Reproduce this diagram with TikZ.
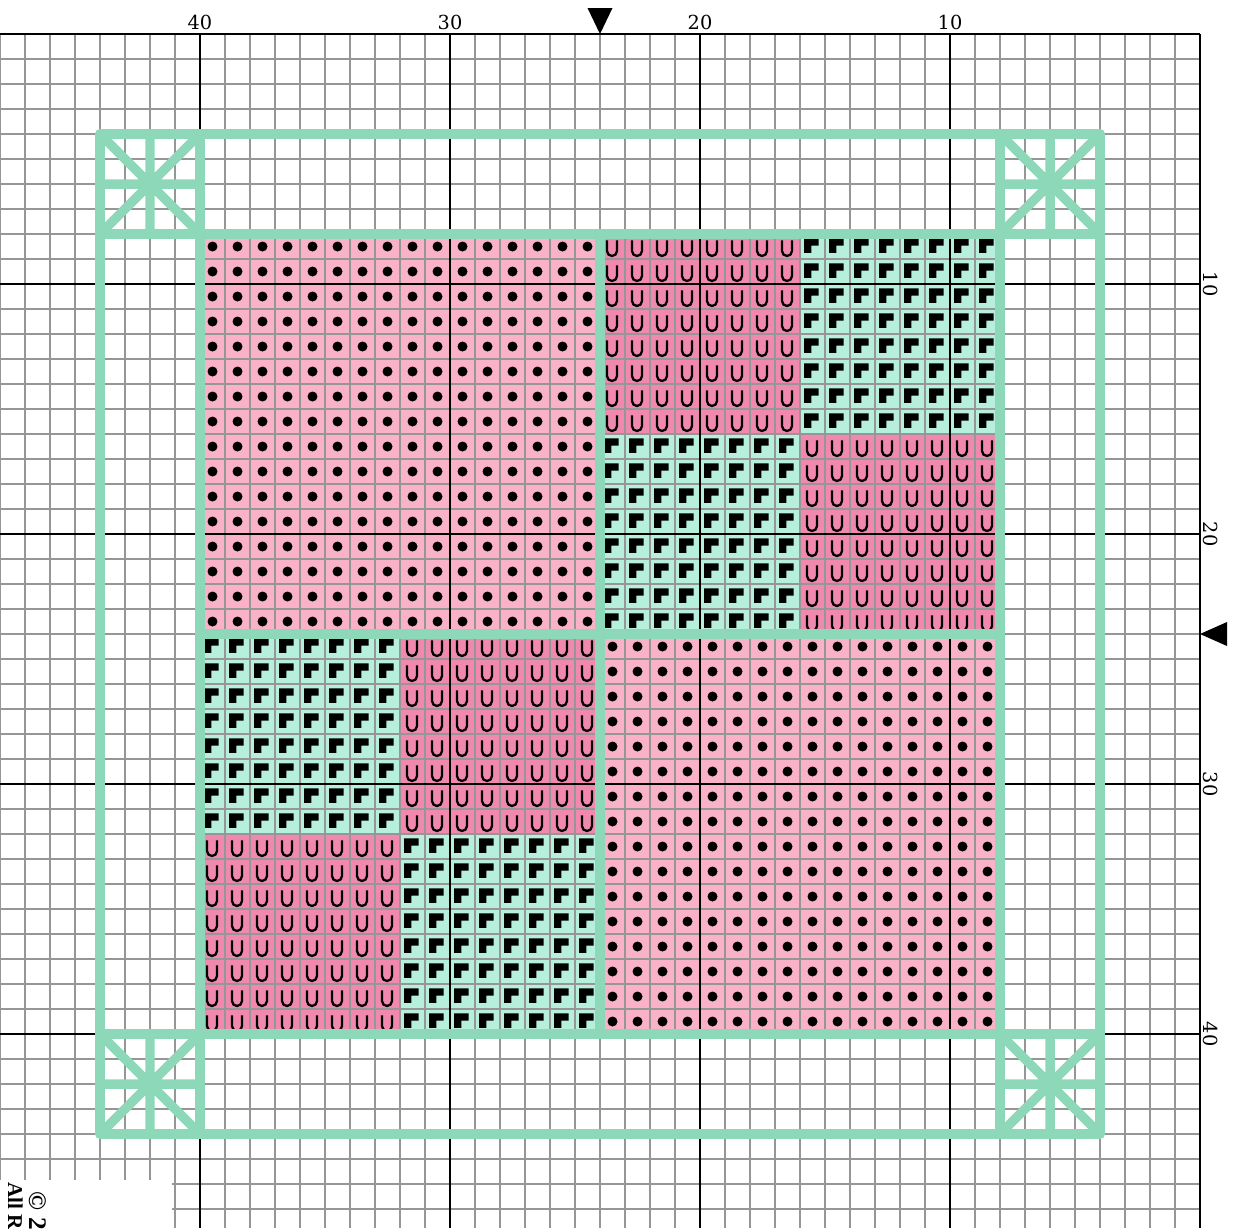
\documentclass[tikz,border=0pt]{standalone}
\usepackage{fontspec}
\newfontfamily\labelfont{DejaVu Serif}
\newfontfamily\copyfont{Liberation Serif}
\definecolor{lightpink}{RGB}{249,178,199}
\definecolor{darkpink}{RGB}{240,137,173}
\definecolor{mint}{RGB}{182,240,220}
\definecolor{framegreen}{RGB}{141,216,184}
\definecolor{gridgray}{RGB}{150,150,150}
\begin{document}
\begin{tikzpicture}[x=0.5cm,y=0.5cm,
	minor/.style={draw=gridgray,line width=1.1pt},
	major/.style={draw=black,line width=1.6pt},
	frame/.style={draw=framegreen,line width=5.4pt,line cap=round,line join=round},
	usym/.style={draw=black,line width=1.3pt},
	axislabel/.style={font=\labelfont\fontsize{11}{12}\selectfont,inner sep=0pt}]
	\clip (0,-47.76) rectangle (49.64,1.36);
	\fill[white] (0,-47.76) rectangle (49.64,1.36);
	% cell colours
	\fill[lightpink] (8,-8) rectangle (24,-24);
	\fill[lightpink] (24,-24) rectangle (40,-40);
	\foreach \bx/\by in {24/8, 32/16, 16/24, 8/32}
	\fill[darkpink] (\bx,-\by) rectangle ++(8,-8);
	\foreach \bx/\by in {32/8, 24/16, 8/24, 16/32}
	\fill[mint] (\bx,-\by) rectangle ++(8,-8);
	% grid
	\foreach \x in {0,...,48}
	\draw[minor] (\x,0) -- (\x,-47.76);
	\foreach \y in {0,...,47}
	\draw[minor] (0,-\y) -- (48,-\y);
	\foreach \x in {8,18,28,38,48}
	\draw[major] (\x,0) -- (\x,-47.76);
	\foreach \y in {0,10,20,30,40}
	\draw[major] (0,-\y) -- (48,-\y);
	% symbols
	\foreach \i in {0,...,15}
	\foreach \j in {0,...,15} {
		\fill (8.5+\i,-8.5-\j) circle (0.2);
		\fill (24.5+\i,-24.5-\j) circle (0.2);
	}
	\foreach \bx/\by in {24/8, 32/16, 16/24, 8/32}
	\foreach \i in {0,...,7}
	\foreach \j in {0,...,7}
	\draw[usym] (\bx+\i+0.28,-\by-\j-0.25) -- ++(0,-0.43) arc (180:360:0.2) -- ++(0,0.43);
	\foreach \bx/\by in {32/8, 24/16, 8/24, 16/32}
	\foreach \i in {0,...,7}
	\foreach \j in {0,...,7}
	\fill (\bx+\i+0.16,-\by-\j-0.17) -- ++(0.58,0) -- ++(0,-0.29) -- ++(-0.29,0) -- ++(0,-0.29) -- ++(-0.29,0) -- cycle;
	% border
	\draw[frame] (4,-4) rectangle (44,-44);
	\draw[frame] (8,-4) -- (8,-44) (40,-4) -- (40,-44);
	\draw[frame] (4,-8) -- (44,-8) (4,-40) -- (44,-40);
	\draw[frame] (24,-8) -- (24,-40) (8,-24) -- (40,-24);
	\foreach \cx/\cy in {4/4, 40/4, 4/40, 40/40}
	\draw[frame] (\cx,-\cy) -- ++(4,-4) (\cx+4,-\cy) -- ++(-4,-4)
	(\cx+2,-\cy) -- ++(0,-4) (\cx,-\cy-2) -- ++(4,0);
	% centre marks
	\fill (24,0) -- (23.5,1.04) -- (24.5,1.04) -- cycle;
	\fill (48,-24) -- (49.08,-23.52) -- (49.08,-24.48) -- cycle;
	% numbers
	\foreach \n in {10,20,30,40} {
		\node[axislabel] at (48-\n,0.47) {\n};
		\node[axislabel,rotate=-90] at (48.42,-\n) {\n};
	}
	% copyright
	\fill[white] (0,-45.84) rectangle (6.88,-47.76);
	\node[rotate=-90,anchor=west,inner sep=0pt,font=\copyfont\bfseries\Large] at (1.5,-46.3) {\textcopyright\ 20};
	\node[rotate=-90,anchor=west,inner sep=0pt,font=\copyfont\bfseries\large] at (0.52,-45.92) {All Rights};
\end{tikzpicture}
\end{document}
